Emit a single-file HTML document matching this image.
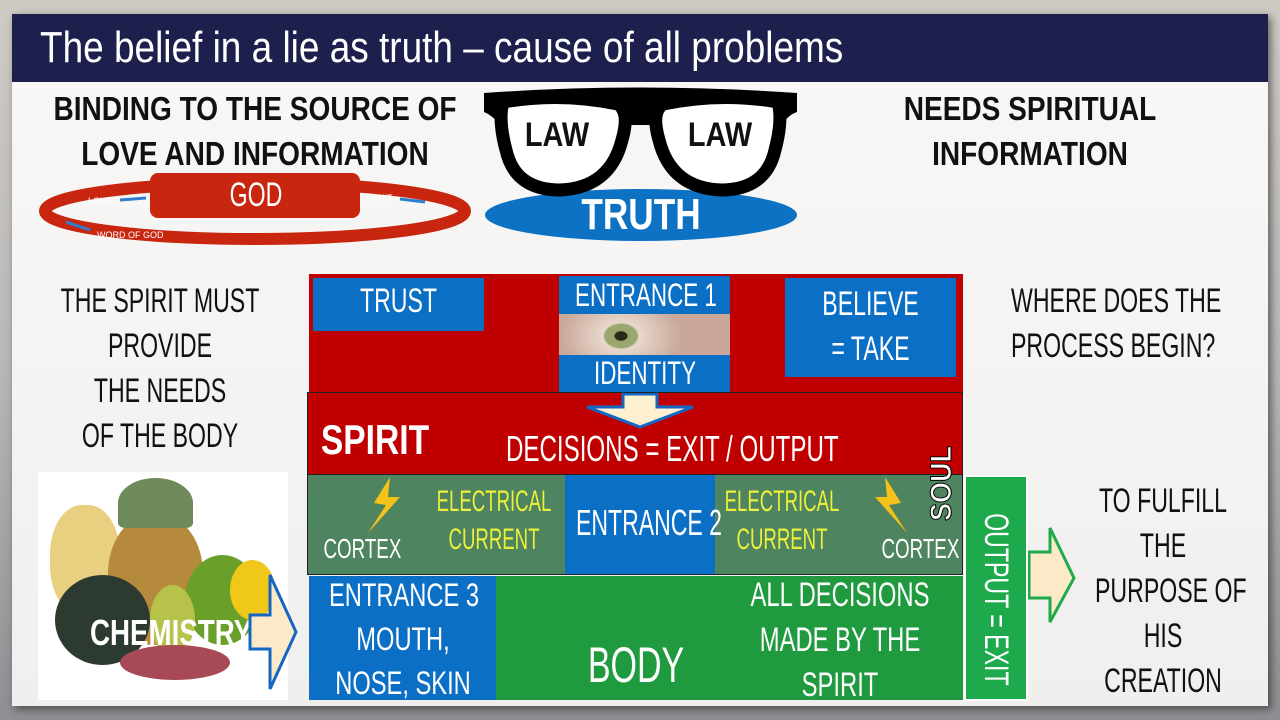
<!DOCTYPE html>
<html><head><meta charset="utf-8"><style>
*{margin:0;padding:0;box-sizing:border-box}
body{width:1280px;height:720px;overflow:hidden;background:linear-gradient(#cfcac4,#b9b8b8 50%,#8e8f93);position:relative;font-family:"Liberation Sans Narrow","Liberation Sans",sans-serif}
.a{position:absolute}
.t{position:absolute;white-space:nowrap;text-align:center;transform:scaleX(.68)}
.b{font-weight:bold}
</style></head><body>
<div class="a" style="left:12px;top:14px;width:1256px;height:692px;background:linear-gradient(#f9f8f6,#f0efee);box-shadow:3px 3px 8px rgba(0,0,0,.5)"></div>
<div class="a" style="left:12px;top:14px;width:1256px;height:68px;background:#1d1f4d"></div>
<div class="t" style="left:40px;top:20px;font-size:44px;line-height:56px;color:#fff;transform-origin:left;transform:scaleX(.84)">The belief in a lie as truth – cause of all problems</div>

<div class="t b" style="left:5px;width:500px;top:86px;font-size:33px;line-height:45px;color:#111;transform:scaleX(.85)">BINDING TO THE SOURCE OF<br>LOVE AND INFORMATION</div>
<div class="t b" style="left:830px;width:400px;top:86px;font-size:33px;line-height:45px;color:#111;transform:scaleX(.85)">NEEDS SPIRITUAL<br>INFORMATION</div>

<svg class="a" style="left:0;top:0" width="1280" height="720">
<ellipse cx="255" cy="211" rx="210" ry="28" fill="none" stroke="#c8260f" stroke-width="12"/>
<rect x="150" y="173" width="210" height="45" rx="8" fill="#c8260f"/>
<g stroke="#2a7fd0" stroke-width="3" fill="#2a7fd0"><line x1="146" y1="198" x2="120" y2="200"/><line x1="425" y1="202" x2="400" y2="199"/><line x1="66" y1="222" x2="90" y2="230"/></g>
<text x="88" y="204" font-size="9" fill="#fff" font-family="Liberation Sans Narrow,Liberation Sans,sans-serif">LOVE</text>
<text x="366" y="201" font-size="9" fill="#fff" font-family="Liberation Sans Narrow,Liberation Sans,sans-serif">FRUIT</text>
<text x="97" y="238" font-size="9" fill="#fff" font-family="Liberation Sans Narrow,Liberation Sans,sans-serif">WORD OF GOD</text>
<ellipse cx="641" cy="215" rx="156" ry="26" fill="#0e72c4"/>
<path d="M484 93 Q640 82 797 93 L797 112 Q788 115 782 125 L500 125 Q492 115 484 112Z" fill="#000"/>
<path d="M503 102 Q560 92 618 104 Q630 112 622 140 Q610 188 560 190 Q515 190 506 150 Q498 120 503 102Z" fill="#fff" stroke="#000" stroke-width="13"/>
<path d="M778 102 Q721 92 663 104 Q651 112 659 140 Q671 188 721 190 Q766 190 775 150 Q783 120 778 102Z" fill="#fff" stroke="#000" stroke-width="13"/>
<path d="M618 100 Q640 94 663 100 L660 125 Q640 112 621 125Z" fill="#000"/>
</svg>
<div class="t" style="left:497px;width:120px;top:116px;font-size:34px;font-weight:bold;color:#111;transform:scaleX(.85)">LAW</div>
<div class="t" style="left:660px;width:120px;top:116px;font-size:34px;font-weight:bold;color:#111;transform:scaleX(.85)">LAW</div>
<div class="t b" style="left:541px;width:200px;top:190px;font-size:44px;color:#fff;transform:scaleX(.8)">TRUTH</div>
<div class="t" style="left:156px;width:200px;top:176px;font-size:34px;color:#fff">GOD</div>

<div class="t" style="left:10px;width:300px;top:279px;font-size:34px;line-height:45px;color:#111">THE SPIRIT MUST<br>PROVIDE<br>THE NEEDS<br>OF THE BODY</div>
<div class="t" style="left:963px;width:300px;top:279px;font-size:34px;line-height:45px;color:#111">WHERE DOES THE<br>PROCESS BEGIN?</div>
<div class="t" style="left:1063px;width:200px;top:479px;font-size:34px;line-height:45px;color:#111">TO FULFILL<br>THE<br>PURPOSE OF<br>HIS<br>CREATION</div>

<div class="a" style="left:309px;top:274px;width:654px;height:120px;background:#c00000"></div>
<div class="a" style="left:313px;top:278px;width:171px;height:53px;background:#0b6fc6"></div>
<div class="t" style="left:313px;width:171px;top:282px;font-size:34px;color:#fff">TRUST</div>
<div class="a" style="left:785px;top:278px;width:171px;height:99px;background:#0b6fc6"></div>
<div class="t" style="left:785px;width:171px;top:282px;font-size:34px;line-height:45px;color:#fff">BELIEVE<br>= TAKE</div>
<div class="a" style="left:559px;top:276px;width:171px;height:118px;background:#0b6fc6"></div>
<div class="a" style="left:559px;top:314px;width:171px;height:41px;background:radial-gradient(ellipse 30px 22px at 62px 22px,#2a2a1a 0 6px,#9aa870 7px 16px,#e8d8cc 18px,#c9a89a 60px)"></div>
<div class="t" style="left:545px;width:200px;top:276px;font-size:32px;line-height:38px;color:#fff;transform:scaleX(.7)">ENTRANCE 1</div>
<div class="t" style="left:545px;width:200px;top:354px;font-size:32px;line-height:38px;color:#fff;transform:scaleX(.7)">IDENTITY</div>

<div class="a" style="left:307px;top:392px;width:656px;height:84px;background:#c00000;border:1px solid #222"></div>
<svg class="a" style="left:575px;top:393px" width="130" height="36"><path d="M48 1 H82 V14 H118 L65 34 L12 14 H48Z" fill="#fdf0d0" stroke="#1466c2" stroke-width="3"/></svg>
<div class="t b" style="left:300px;width:150px;top:416px;font-size:42px;color:#fff;transform:scaleX(.8)">SPIRIT</div>
<div class="t" style="left:440px;width:400px;top:428px;font-size:36px;color:#fff;transform:scaleX(.67)">DECISIONS = EXIT / OUTPUT</div>

<div class="a" style="left:307px;top:474px;width:656px;height:101px;background:#4e8460;border:1px solid #222"></div>
<div class="a" style="left:565px;top:475px;width:150px;height:99px;background:#0b6fc6"></div>
<div class="t" style="left:540px;width:200px;top:502px;font-size:36px;color:#fff;transform:scaleX(.64)">ENTRANCE 2</div>
<div class="t" style="left:394px;width:200px;top:483px;font-size:30px;line-height:38px;color:#ecf03a;transform:scaleX(.62)">ELECTRICAL<br>CURRENT</div>
<div class="t" style="left:682px;width:200px;top:483px;font-size:30px;line-height:38px;color:#ecf03a;transform:scaleX(.62)">ELECTRICAL<br>CURRENT</div>
<div class="t" style="left:307px;width:100px;top:533px;font-size:28px;color:#fff;transform:scaleX(.67)">CORTEX</div>
<div class="t" style="left:865px;width:100px;top:533px;font-size:28px;color:#fff;transform:scaleX(.67)">CORTEX</div>
<svg class="a" style="left:360px;top:475px" width="50" height="60"><path d="M30 2 L14 28 L26 30 L8 58 L40 22 L28 22Z" fill="#f5c21a"/></svg>
<svg class="a" style="left:865px;top:475px" width="50" height="60"><path d="M20 2 L36 28 L24 30 L42 58 L10 22 L22 22Z" fill="#f5c21a"/></svg>
<div class="a b" style="left:902px;top:470px;width:80px;height:30px;text-align:center;font-size:30px;line-height:30px;color:#fff;transform:rotate(-90deg) scaleX(.9);font-family:'Liberation Sans',sans-serif;-webkit-text-stroke:1px #000">SOUL</div>

<div class="a" style="left:309px;top:576px;width:654px;height:124px;background:#1f9a3e"></div>
<div class="a" style="left:309px;top:576px;width:187px;height:124px;background:#0b6fc6"></div>
<div class="t" style="left:303px;width:200px;top:573px;font-size:32px;line-height:44px;color:#fff;transform:scaleX(.74)">ENTRANCE 3<br>MOUTH,<br>NOSE, SKIN</div>
<div class="t" style="left:536px;width:200px;top:636px;font-size:50px;color:#fff">BODY</div>
<div class="t" style="left:690px;width:300px;top:573px;font-size:34px;line-height:45px;color:#fff;transform:scaleX(.7)">ALL DECISIONS<br>MADE BY THE<br>SPIRIT</div>

<div class="a" style="left:964px;top:475px;width:64px;height:226px;background:#1eaa4c;border:2px solid #fff"></div>
<div class="t" style="left:886px;width:220px;top:568px;font-size:34px;line-height:40px;color:#fff;transform:rotate(90deg) scaleX(.68)">OUTPUT = EXIT</div>
<svg class="a" style="left:1028px;top:525px" width="50" height="100"><path d="M1 27 H22 V3 L46 53 L22 97 V73 H1Z" fill="#fce9c7" stroke="#1eaa4c" stroke-width="3"/></svg>

<div class="a" style="left:38px;top:472px;width:250px;height:228px;background:#fff"></div>
<div class="a" style="left:50px;top:505px;width:70px;height:110px;border-radius:45%;background:#e9cf80"></div>
<div class="a" style="left:108px;top:515px;width:95px;height:130px;border-radius:45%;background:#b58a3c"></div>
<div class="a" style="left:118px;top:478px;width:75px;height:50px;background:#6f8a5a;border-radius:50% 50% 10% 10%"></div>
<div class="a" style="left:55px;top:575px;width:95px;height:90px;border-radius:50%;background:#2d3a30"></div>
<div class="a" style="left:185px;top:555px;width:75px;height:90px;border-radius:50%;background:#6aa02a"></div>
<div class="a" style="left:150px;top:585px;width:45px;height:70px;border-radius:50%;background:#b7c24a"></div>
<div class="a" style="left:120px;top:645px;width:110px;height:35px;border-radius:50%;background:#a84a55"></div>
<div class="a" style="left:230px;top:560px;width:45px;height:60px;border-radius:50%;background:#f0c81a"></div>
<div class="t b" style="left:67px;width:200px;top:612px;font-size:36px;color:#fff;transform:scaleX(.77)">CHEMISTRY</div>
<svg class="a" style="left:248px;top:572px" width="52" height="120"><path d="M2 43 H22 V3 L48 60 L22 117 V77 H2Z" fill="#fbe9c8" stroke="#1466c2" stroke-width="3"/></svg>
</body></html>
